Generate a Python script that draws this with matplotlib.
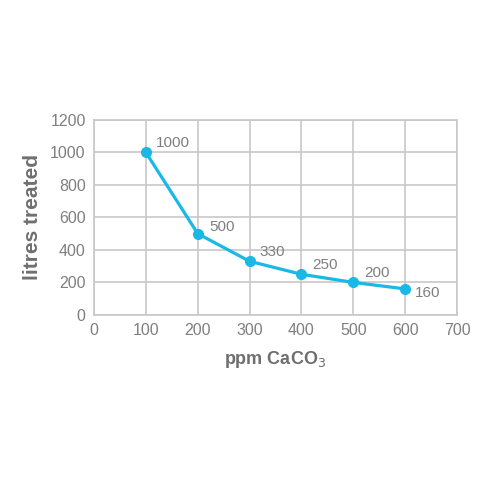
import matplotlib
matplotlib.use("Agg")
import matplotlib.pyplot as plt

ppm = [100, 200, 300, 400, 500, 600]
litres = [1000, 500, 330, 250, 200, 160]
point_labels = ["1000", "500", "330", "250", "200", "160"]
label_offsets = [(7, 7), (8, 5), (7, 7), (8, 7), (8, 7), (7, -3)]

plt.rcParams['font.family'] = ['Liberation Sans Narrow', 'Liberation Sans', 'DejaVu Sans']

grey = '#7f7f7f'
gridc = '#c8c8c8'
blue = '#1ab8e4'

fig = plt.figure(figsize=(4.8, 4.8), dpi=100)
ax = fig.add_axes([0.196, 0.344, 0.756, 0.406])

ax.plot(ppm, litres, color=blue, lw=2.3, marker='o', ms=7, zorder=3, clip_on=False)
for x, y, t, off in zip(ppm, litres, point_labels, label_offsets):
    ax.annotate(t, (x, y), xytext=off, textcoords='offset points',
                color=grey, fontsize=11, ha='left', va='center')

ax.set_xlim(0, 700)
ax.set_ylim(0, 1200)
ax.set_xticks(range(0, 701, 100))
ax.set_yticks(range(0, 1201, 200))
ax.grid(True, color=gridc, lw=1.2)
ax.set_axisbelow(True)
for s in ax.spines.values():
    s.set_color(gridc)
    s.set_linewidth(1.2)
ax.tick_params(length=0, colors=grey, labelsize=11.5, pad=6)

ax.set_xlabel('ppm CaCO$_3$', color='#6f6f6f', fontsize=13, fontweight='bold', labelpad=8)
ax.set_ylabel('litres treated', color='#6f6f6f', fontsize=15, fontweight='bold', labelpad=6)

fig.savefig('out.png', dpi=100)
